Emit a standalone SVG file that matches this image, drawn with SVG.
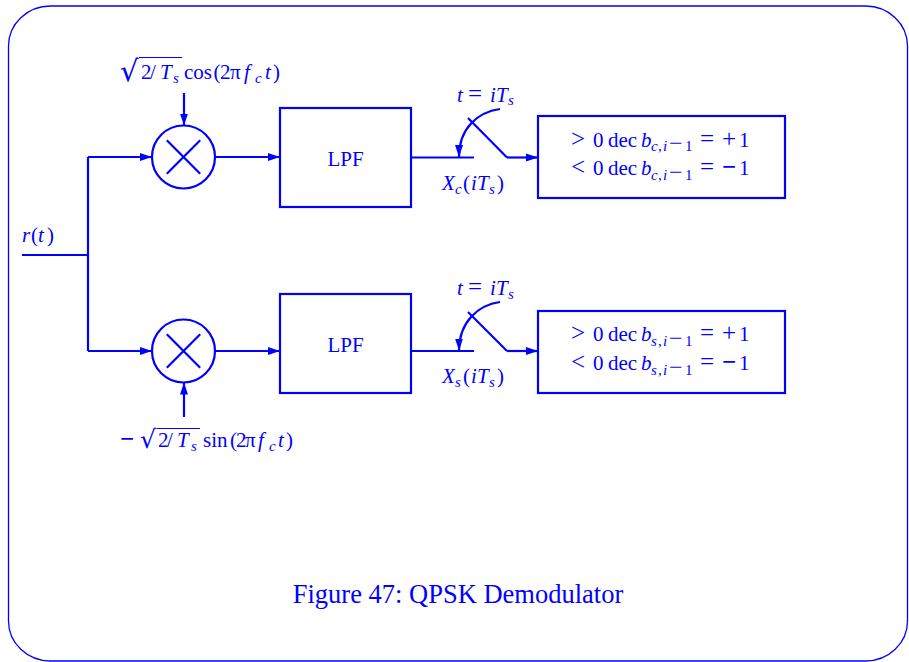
<svg xmlns="http://www.w3.org/2000/svg" width="909" height="662" viewBox="0 0 909 662">
<style>
.ln{fill:none;stroke:#0000ff;stroke-width:2.2}
.fr{fill:none;stroke:#0000ff;stroke-width:1.3}
.ov{stroke:#0000ff;stroke-width:1.2}
text{font-family:"Liberation Serif","Times New Roman",serif;font-size:21px;fill:#0000ff}
.rad{font-family:"DejaVu Serif",serif}
.i{font-style:italic}
.sb{font-size:15px}
.op{font-size:25px}
.sm{font-size:24px}
.bm{font-size:25px;font-weight:bold}
.cap{font-size:26.5px}
</style>
<defs>
<marker id="ah" viewBox="0 0 12 9" refX="12" refY="4.5" markerWidth="12" markerHeight="9" markerUnits="userSpaceOnUse" orient="auto">
<path d="M0,0.5 L12,4.5 L0,8.5 z" fill="#0000ff"/>
</marker>
</defs>
<rect class="fr" x="8.5" y="6" width="899" height="655" rx="42" ry="40"/>

<g id="connectors">
<path class="ln" d="M22,255 H88"/>
<path class="ln" d="M88,157 V351"/>
<path class="ln" d="M88,157 H152" marker-end="url(#ah)"/>
<path class="ln" d="M88,351 H152" marker-end="url(#ah)"/>
<path class="ln" d="M184,93 V125.5" marker-end="url(#ah)"/>
<path class="ln" d="M184,417 V382.5" marker-end="url(#ah)"/>
<path class="ln" d="M215,157 H280" marker-end="url(#ah)"/>
<path class="ln" d="M215,351 H280" marker-end="url(#ah)"/>
<path class="ln" d="M411,157.5 H474"/>
<path class="ln" d="M507,157.5 H538" marker-end="url(#ah)"/>
<path class="ln" d="M411,351 H474"/>
<path class="ln" d="M507,351 H538" marker-end="url(#ah)"/>
</g>

<g id="input">
<text x="22" y="242"><tspan class="i">r</tspan><tspan x="31">(</tspan><tspan class="i" x="38">t</tspan><tspan x="47">)</tspan></text>
</g>

<g id="mixer1">
<circle class="ln" cx="183.5" cy="157" r="31.5"/>
<path class="ln" d="M166.8,140.3 L200.2,173.7 M200.2,140.3 L166.8,173.7"/>
</g>
<g id="osc1">
<text class="rad" x="120" y="80.5" style="font-size:29px">√</text>
<line class="ov" x1="139" y1="57.5" x2="182" y2="57.5"/>
<text y="79"><tspan x="141">2</tspan><tspan x="150">/</tspan><tspan class="i" x="160">T</tspan><tspan class="sb i" x="173" y="83">s</tspan><tspan x="184" y="79">cos</tspan><tspan x="213.5">(</tspan><tspan x="220">2</tspan><tspan x="230">π</tspan><tspan class="i" x="244">f</tspan><tspan class="sb i" x="255" y="83">c</tspan><tspan class="i" x="265" y="79">t</tspan><tspan x="273">)</tspan></text>
</g>

<g id="mixer2">
<circle class="ln" cx="183.5" cy="351" r="31.5"/>
<path class="ln" d="M166.8,334.3 L200.2,367.7 M200.2,334.3 L166.8,367.7"/>
</g>
<g id="osc2">
<text class="bm" x="120" y="447">−</text>
<text class="rad" x="140" y="448" style="font-size:25px">√</text>
<line class="ov" x1="156.5" y1="428.5" x2="200" y2="428.5"/>
<text y="447"><tspan x="158">2</tspan><tspan x="167">/</tspan><tspan class="i" x="177">T</tspan><tspan class="sb i" x="191" y="451">s</tspan><tspan x="203" y="447">sin</tspan><tspan x="230">(</tspan><tspan x="236">2</tspan><tspan x="245">π</tspan><tspan class="i" x="258">f</tspan><tspan class="sb i" x="269" y="451">c</tspan><tspan class="i" x="278" y="447">t</tspan><tspan x="286">)</tspan></text>
</g>

<g id="lpf1">
<rect class="ln" x="280" y="108" width="131" height="99"/>
<text x="345.5" y="165.5" text-anchor="middle">LPF</text>
</g>
<g id="lpf2">
<rect class="ln" x="280" y="294" width="131" height="99"/>
<text x="345.5" y="351.5" text-anchor="middle">LPF</text>
</g>

<g id="sampler1">
<path class="ln" d="M468,118 L507,157.5"/>
<path class="ln" d="M500,109 C478,112 459,128 459,157" marker-end="url(#ah)"/>
<text y="101.5"><tspan class="i" x="457">t</tspan><tspan class="op" x="468">=</tspan><tspan class="i" x="490">i</tspan><tspan class="i" x="496">T</tspan><tspan class="sb i" x="508" y="105">s</tspan></text>
<text y="190"><tspan class="i" x="442">X</tspan><tspan class="sb i" x="455" y="194">c</tspan><tspan x="463" y="190">(</tspan><tspan class="i" x="471">i</tspan><tspan class="i" x="477">T</tspan><tspan class="sb i" x="489" y="194">s</tspan><tspan x="497" y="190">)</tspan></text>
</g>
<g id="sampler2">
<path class="ln" d="M468,312 L507,351"/>
<path class="ln" d="M500,302 C478,305 459,322 459,350.5" marker-end="url(#ah)"/>
<text y="295"><tspan class="i" x="457">t</tspan><tspan class="op" x="468">=</tspan><tspan class="i" x="490">i</tspan><tspan class="i" x="496">T</tspan><tspan class="sb i" x="508" y="298.5">s</tspan></text>
<text y="383"><tspan class="i" x="442">X</tspan><tspan class="sb i" x="455" y="387">s</tspan><tspan x="463" y="383">(</tspan><tspan class="i" x="471">i</tspan><tspan class="i" x="477">T</tspan><tspan class="sb i" x="489" y="387">s</tspan><tspan x="497" y="383">)</tspan></text>
</g>

<g id="decision1">
<rect class="ln" x="538" y="116" width="247" height="82"/>
<text y="146.5"><tspan class="op" x="571">&gt;</tspan><tspan x="593">0</tspan><tspan x="608">dec</tspan><tspan class="i" x="641">b</tspan><tspan class="sb i" x="651" y="151">c</tspan><tspan class="sb" x="658">,</tspan><tspan class="sb i" x="663">i</tspan><tspan class="sm" x="669">−</tspan><tspan class="sb" x="685">1</tspan><tspan class="op" x="700" y="146.5">=</tspan><tspan class="op" x="722">+</tspan><tspan x="739">1</tspan></text>
<text y="175"><tspan class="op" x="571">&lt;</tspan><tspan x="593">0</tspan><tspan x="608">dec</tspan><tspan class="i" x="641">b</tspan><tspan class="sb i" x="651" y="179.5">c</tspan><tspan class="sb" x="658">,</tspan><tspan class="sb i" x="663">i</tspan><tspan class="sm" x="669">−</tspan><tspan class="sb" x="685">1</tspan><tspan class="op" x="700" y="175">=</tspan><tspan class="bm" x="722">−</tspan><tspan x="739">1</tspan></text>
</g>
<g id="decision2">
<rect class="ln" x="538" y="311" width="247" height="82"/>
<text y="341"><tspan class="op" x="571">&gt;</tspan><tspan x="593">0</tspan><tspan x="608">dec</tspan><tspan class="i" x="641">b</tspan><tspan class="sb i" x="651" y="345.5">s</tspan><tspan class="sb" x="658">,</tspan><tspan class="sb i" x="663">i</tspan><tspan class="sm" x="669">−</tspan><tspan class="sb" x="685">1</tspan><tspan class="op" x="700" y="341">=</tspan><tspan class="op" x="722">+</tspan><tspan x="739">1</tspan></text>
<text y="370"><tspan class="op" x="571">&lt;</tspan><tspan x="593">0</tspan><tspan x="608">dec</tspan><tspan class="i" x="641">b</tspan><tspan class="sb i" x="651" y="374.5">s</tspan><tspan class="sb" x="658">,</tspan><tspan class="sb i" x="663">i</tspan><tspan class="sm" x="669">−</tspan><tspan class="sb" x="685">1</tspan><tspan class="op" x="700" y="370">=</tspan><tspan class="bm" x="722">−</tspan><tspan x="739">1</tspan></text>
</g>

<text class="cap" x="458" y="603" text-anchor="middle">Figure 47: QPSK Demodulator</text>
</svg>
